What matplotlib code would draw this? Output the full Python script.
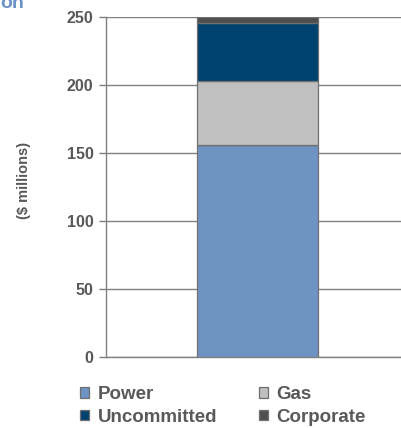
import matplotlib
matplotlib.use('Agg')
import matplotlib.pyplot as plt

plt.rcParams['font.family'] = ['Liberation Sans', 'DejaVu Sans']
plt.rcParams['font.weight'] = 'bold'

# capital by segment, $ millions (stacked bottom to top)
segments = ['Power', 'Gas', 'Uncommitted', 'Corporate']
values = [156, 47, 42, 5]
colors = ['#6F93C2', '#C0C0C0', '#00426F', '#4F4F4F']
yticks = [0, 50, 100, 150, 200, 250]

text_grey = '#595959'
line_grey = '#808080'

fig = plt.figure(figsize=(4.01, 4.28), dpi=100)
ax = fig.add_axes([0.2643, 0.1652, 0.7357, 0.7962])

bottom = 0
bars = {}
for name, v, c in zip(segments, values, colors):
    bars[name] = ax.bar(0, v, width=0.5, bottom=bottom, color=c,
                        edgecolor='#707070', linewidth=0.9, label=name,
                        zorder=3)
    bottom += v

ax.set_xlim(-0.623, 0.590)
ax.set_ylim(0, 250)
ax.set_yticks(yticks)
ax.set_xticks([])
ax.yaxis.grid(True, color=line_grey, linewidth=1.0, zorder=0)
ax.tick_params(axis='y', direction='out', length=5, width=1, color=line_grey,
               labelsize=11.5, labelcolor=text_grey, pad=4)
for lab in ax.get_yticklabels():
    lab.set_fontweight('bold')
for s in ['top', 'right']:
    ax.spines[s].set_visible(False)
ax.spines['left'].set_color(line_grey)
ax.spines['bottom'].set_color(line_grey)
ax.spines['left'].set_linewidth(1)
ax.spines['bottom'].set_linewidth(1)

fig.text(24 / 401, 1 - 180 / 428, '($ millions)', rotation=90, ha='center',
         va='center', fontsize=10.5, fontweight='bold', color=text_grey)

# title fragment at top left, clipped by the figure edge
fig.text(0, 1 - 8 / 428, 'on', ha='left', va='baseline', fontsize=14,
         fontweight='bold', color='#6C93C8')

# legend fills column-wise, so order handles to get Power/Gas on the first row
order = ['Power', 'Uncommitted', 'Gas', 'Corporate']
leg = fig.legend(handles=[bars[n] for n in order], labels=order, ncol=2,
                 loc='upper left', bbox_to_anchor=(80 / 401, 1 - 386 / 428),
                 frameon=False, fontsize=13.5, handlelength=0.5,
                 handleheight=0.5, handletextpad=0.45, columnspacing=2.2,
                 labelspacing=0.3, borderpad=0, borderaxespad=0)
for t in leg.get_texts():
    t.set_color(text_grey)
    t.set_fontweight('bold')

fig.savefig('out.png', dpi=100)
